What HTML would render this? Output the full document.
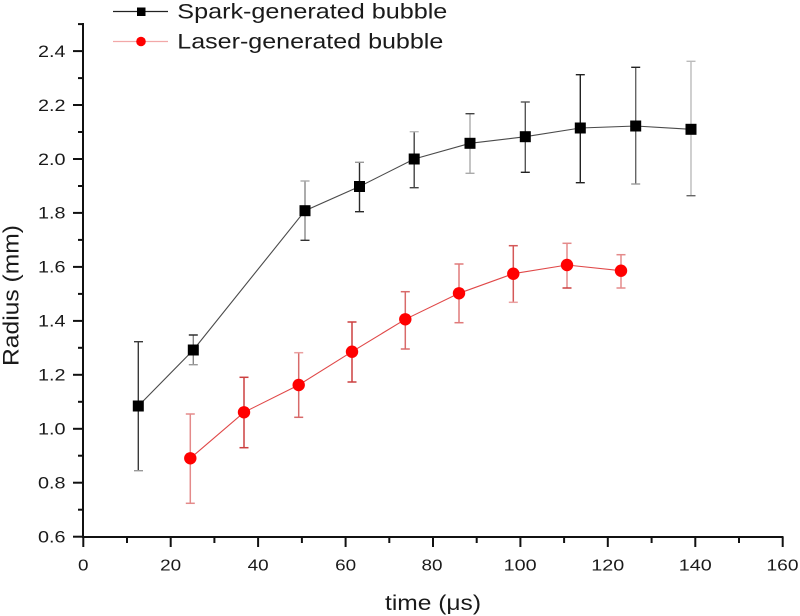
<!DOCTYPE html>
<html>
<head>
<meta charset="utf-8">
<style>
  html,body{margin:0;padding:0;background:#fff;}
  svg{display:block;}
  text{font-family:"Liberation Sans", Arial, sans-serif;fill:#1a1a1a;}
</style>
</head>
<body>
<svg width="800" height="616" viewBox="0 0 800 616" xmlns="http://www.w3.org/2000/svg">
  <rect width="800" height="616" fill="#fff"/>

  <!-- Axes -->
  <g stroke="#111" stroke-width="2" fill="none">
    <line x1="83" y1="23" x2="83" y2="537"/>
    <line x1="82" y1="537" x2="783.5" y2="537"/>
  </g>

  <!-- Y ticks: major (0.2) -->
  <g stroke="#111" stroke-width="2">
    <line x1="73" y1="536.7" x2="83" y2="536.7"/>
    <line x1="73" y1="482.7" x2="83" y2="482.7"/>
    <line x1="73" y1="428.8" x2="83" y2="428.8"/>
    <line x1="73" y1="374.8" x2="83" y2="374.8"/>
    <line x1="73" y1="320.9" x2="83" y2="320.9"/>
    <line x1="73" y1="266.9" x2="83" y2="266.9"/>
    <line x1="73" y1="212.9" x2="83" y2="212.9"/>
    <line x1="73" y1="159.0" x2="83" y2="159.0"/>
    <line x1="73" y1="105.0" x2="83" y2="105.0"/>
    <line x1="73" y1="51.1" x2="83" y2="51.1"/>
  </g>
  <!-- Y minor -->
  <g stroke="#111" stroke-width="2">
    <line x1="78" y1="509.7" x2="83" y2="509.7"/>
    <line x1="78" y1="455.7" x2="83" y2="455.7"/>
    <line x1="78" y1="401.8" x2="83" y2="401.8"/>
    <line x1="78" y1="347.8" x2="83" y2="347.8"/>
    <line x1="78" y1="293.9" x2="83" y2="293.9"/>
    <line x1="78" y1="239.9" x2="83" y2="239.9"/>
    <line x1="78" y1="186.0" x2="83" y2="186.0"/>
    <line x1="78" y1="132.0" x2="83" y2="132.0"/>
    <line x1="78" y1="78.1" x2="83" y2="78.1"/>
    <line x1="78" y1="24.1" x2="83" y2="24.1"/>
  </g>

  <!-- X ticks major (20) -->
  <g stroke="#111" stroke-width="2">
    <line x1="83.3" y1="537" x2="83.3" y2="547"/>
    <line x1="170.7" y1="537" x2="170.7" y2="547"/>
    <line x1="258.1" y1="537" x2="258.1" y2="547"/>
    <line x1="345.6" y1="537" x2="345.6" y2="547"/>
    <line x1="433.0" y1="537" x2="433.0" y2="547"/>
    <line x1="520.4" y1="537" x2="520.4" y2="547"/>
    <line x1="607.8" y1="537" x2="607.8" y2="547"/>
    <line x1="695.3" y1="537" x2="695.3" y2="547"/>
    <line x1="782.7" y1="537" x2="782.7" y2="547"/>
  </g>
  <g stroke="#111" stroke-width="2">
    <line x1="127.0" y1="537" x2="127.0" y2="543"/>
    <line x1="214.4" y1="537" x2="214.4" y2="543"/>
    <line x1="301.9" y1="537" x2="301.9" y2="543"/>
    <line x1="389.3" y1="537" x2="389.3" y2="543"/>
    <line x1="476.7" y1="537" x2="476.7" y2="543"/>
    <line x1="564.1" y1="537" x2="564.1" y2="543"/>
    <line x1="651.6" y1="537" x2="651.6" y2="543"/>
    <line x1="739.0" y1="537" x2="739.0" y2="543"/>
  </g>

  <!-- Y tick labels -->
  <g font-size="16.3" text-anchor="end">
    <text x="65.5" y="542.5" textLength="27.5" lengthAdjust="spacingAndGlyphs">0.6</text>
    <text x="65.5" y="488.5" textLength="27.5" lengthAdjust="spacingAndGlyphs">0.8</text>
    <text x="65.5" y="434.6" textLength="27.5" lengthAdjust="spacingAndGlyphs">1.0</text>
    <text x="65.5" y="380.6" textLength="27.5" lengthAdjust="spacingAndGlyphs">1.2</text>
    <text x="65.5" y="326.7" textLength="27.5" lengthAdjust="spacingAndGlyphs">1.4</text>
    <text x="65.5" y="272.7" textLength="27.5" lengthAdjust="spacingAndGlyphs">1.6</text>
    <text x="65.5" y="218.7" textLength="27.5" lengthAdjust="spacingAndGlyphs">1.8</text>
    <text x="65.5" y="164.8" textLength="27.5" lengthAdjust="spacingAndGlyphs">2.0</text>
    <text x="65.5" y="110.8" textLength="27.5" lengthAdjust="spacingAndGlyphs">2.2</text>
    <text x="65.5" y="56.9" textLength="27.5" lengthAdjust="spacingAndGlyphs">2.4</text>
  </g>

  <!-- X tick labels -->
  <g font-size="16" text-anchor="middle">
    <text x="83.3" y="570.7" textLength="10.5" lengthAdjust="spacingAndGlyphs">0</text>
    <text x="170.7" y="570.7" textLength="21" lengthAdjust="spacingAndGlyphs">20</text>
    <text x="258.1" y="570.7" textLength="21" lengthAdjust="spacingAndGlyphs">40</text>
    <text x="345.6" y="570.7" textLength="21" lengthAdjust="spacingAndGlyphs">60</text>
    <text x="432.0" y="570.7" textLength="21" lengthAdjust="spacingAndGlyphs">80</text>
    <text x="520.2" y="570.7" textLength="33" lengthAdjust="spacingAndGlyphs">100</text>
    <text x="607.8" y="570.7" textLength="33" lengthAdjust="spacingAndGlyphs">120</text>
    <text x="695.3" y="570.7" textLength="33" lengthAdjust="spacingAndGlyphs">140</text>
    <text x="782.5" y="570.7" textLength="32" lengthAdjust="spacingAndGlyphs">160</text>
  </g>

  <!-- Axis titles -->
  <text x="385" y="610" font-size="21" textLength="96" lengthAdjust="spacingAndGlyphs">time (μs)</text>
  <text transform="translate(18.5,366) rotate(-90)" font-size="22.5" textLength="141" lengthAdjust="spacingAndGlyphs">Radius (mm)</text>

  <!-- Spark series connecting line -->
  <polyline fill="none" stroke="#4a4a4a" stroke-width="1.1"
    points="138.3,406 193.3,350 305,210.7 359.5,186.5 414.2,159 470,143.3 525.3,136.7 580.3,128 635.7,126 691,129.3"/>

  <!-- Spark error bars -->
  <g fill="none" stroke-width="1.4">
    <g stroke="#3a3a3a"><line x1="138.3" y1="341.7" x2="138.3" y2="470.7"/><line x1="134" y1="341.7" x2="143" y2="341.7"/><line x1="134" y1="470.7" x2="143" y2="470.7" stroke="#999"/></g>
    <g stroke="#555"><line x1="193.3" y1="335" x2="193.3" y2="364.7" stroke="#888"/><line x1="188.8" y1="335" x2="197.8" y2="335" stroke="#222"/><line x1="188.8" y1="364.7" x2="197.8" y2="364.7" stroke="#999"/></g>
    <g stroke="#888"><line x1="305" y1="181" x2="305" y2="240.3"/><line x1="300.5" y1="181" x2="309.5" y2="181" stroke="#aaa"/><line x1="300.5" y1="240.3" x2="309.5" y2="240.3" stroke="#333"/></g>
    <g stroke="#2a2a2a"><line x1="359.5" y1="162.3" x2="359.5" y2="211.7"/><line x1="355" y1="162.3" x2="364" y2="162.3" stroke="#999"/><line x1="355" y1="211.7" x2="364" y2="211.7"/></g>
    <g stroke="#444"><line x1="414.2" y1="131.7" x2="414.2" y2="187.7"/><line x1="409.7" y1="131.7" x2="418.7" y2="131.7" stroke="#bbb"/><line x1="409.7" y1="187.7" x2="418.7" y2="187.7"/></g>
    <g stroke="#aaa"><line x1="470" y1="113.7" x2="470" y2="173.3"/><line x1="465.5" y1="113.7" x2="474.5" y2="113.7" stroke="#444"/><line x1="465.5" y1="173.3" x2="474.5" y2="173.3"/></g>
    <g stroke="#555"><line x1="525.3" y1="102" x2="525.3" y2="172.3"/><line x1="520.8" y1="102" x2="529.8" y2="102"/><line x1="520.8" y1="172.3" x2="529.8" y2="172.3" stroke="#222"/></g>
    <g stroke="#222"><line x1="580.3" y1="74.7" x2="580.3" y2="182.7"/><line x1="575.8" y1="74.7" x2="584.8" y2="74.7"/><line x1="575.8" y1="182.7" x2="584.8" y2="182.7"/></g>
    <g stroke="#666"><line x1="635.7" y1="67.3" x2="635.7" y2="184"/><line x1="631.2" y1="67.3" x2="640.2" y2="67.3" stroke="#222"/><line x1="631.2" y1="184" x2="640.2" y2="184" stroke="#999"/></g>
    <g stroke="#bbb"><line x1="691" y1="61.3" x2="691" y2="195.7"/><line x1="686.5" y1="61.3" x2="695.5" y2="61.3"/><line x1="686.5" y1="195.7" x2="695.5" y2="195.7" stroke="#666"/></g>
  </g>

  <!-- Spark markers -->
  <g fill="#000">
    <rect x="132.8" y="400.5" width="11" height="11"/>
    <rect x="187.8" y="344.5" width="11" height="11"/>
    <rect x="299.5" y="205.2" width="11" height="11"/>
    <rect x="354" y="181" width="11" height="11"/>
    <rect x="408.7" y="153.5" width="11" height="11"/>
    <rect x="464.5" y="137.8" width="11" height="11"/>
    <rect x="519.8" y="131.2" width="11" height="11"/>
    <rect x="574.8" y="122.5" width="11" height="11"/>
    <rect x="630.2" y="120.5" width="11" height="11"/>
    <rect x="685.5" y="123.8" width="11" height="11"/>
  </g>

  <!-- Laser series line -->
  <polyline fill="none" stroke="#e04848" stroke-width="1.1"
    points="190.3,458.3 244,412.3 298.7,385 352,351.7 405.3,319.3 459,293.3 513.3,273.7 567,265 621,270.7"/>

  <!-- Laser error bars -->
  <g fill="none" stroke-width="1.5" stroke="#d84c4c">
    <g stroke="#e48a8a"><line x1="190.3" y1="414" x2="190.3" y2="503.3"/><line x1="185.8" y1="414" x2="194.8" y2="414"/><line x1="185.8" y1="503.3" x2="194.8" y2="503.3"/></g>
    <g stroke="#cc4040"><line x1="244" y1="377.3" x2="244" y2="447.7"/><line x1="239.5" y1="377.3" x2="248.5" y2="377.3"/><line x1="239.5" y1="447.7" x2="248.5" y2="447.7"/></g>
    <g stroke="#d86a6a"><line x1="298.7" y1="352.7" x2="298.7" y2="417.3"/><line x1="294.2" y1="352.7" x2="303.2" y2="352.7" stroke="#eaa0a0"/><line x1="294.2" y1="417.3" x2="303.2" y2="417.3"/></g>
    <g stroke="#cc4040"><line x1="352" y1="322" x2="352" y2="382"/><line x1="347.5" y1="322" x2="356.5" y2="322"/><line x1="347.5" y1="382" x2="356.5" y2="382"/></g>
    <g stroke="#d86a6a"><line x1="405.3" y1="291.7" x2="405.3" y2="349"/><line x1="400.8" y1="291.7" x2="409.8" y2="291.7"/><line x1="400.8" y1="349" x2="409.8" y2="349"/></g>
    <g stroke="#e07a7a"><line x1="459" y1="264" x2="459" y2="322.7"/><line x1="454.5" y1="264" x2="463.5" y2="264"/><line x1="454.5" y1="322.7" x2="463.5" y2="322.7"/></g>
    <g stroke="#d45858"><line x1="513.3" y1="245.7" x2="513.3" y2="302.3"/><line x1="508.8" y1="245.7" x2="517.8" y2="245.7"/><line x1="508.8" y1="302.3" x2="517.8" y2="302.3" stroke="#eaa0a0"/></g>
    <g stroke="#e48a8a"><line x1="567" y1="243.3" x2="567" y2="288"/><line x1="562.5" y1="243.3" x2="571.5" y2="243.3"/><line x1="562.5" y1="288" x2="571.5" y2="288" stroke="#cc4040"/></g>
    <g stroke="#e48a8a"><line x1="621" y1="254.7" x2="621" y2="288"/><line x1="616.5" y1="254.7" x2="625.5" y2="254.7"/><line x1="616.5" y1="288" x2="625.5" y2="288"/></g>
  </g>

  <!-- Laser markers -->
  <g fill="#ff0000">
    <circle cx="190.3" cy="458.3" r="6.2"/>
    <circle cx="244" cy="412.3" r="6.2"/>
    <circle cx="298.7" cy="385" r="6.2"/>
    <circle cx="352" cy="351.7" r="6.2"/>
    <circle cx="405.3" cy="319.3" r="6.2"/>
    <circle cx="459" cy="293.3" r="6.2"/>
    <circle cx="513.3" cy="273.7" r="6.2"/>
    <circle cx="567" cy="265" r="6.2"/>
    <circle cx="621" cy="270.7" r="6.2"/>
  </g>

  <!-- Legend -->
  <line x1="113" y1="11.5" x2="168" y2="11.5" stroke="#222" stroke-width="1.3"/>
  <rect x="137" y="7.5" width="8.5" height="8.5" fill="#000"/>
  <text x="177.3" y="18.5" font-size="21.5" textLength="270" lengthAdjust="spacingAndGlyphs">Spark-generated bubble</text>

  <line x1="113" y1="41.5" x2="168" y2="41.5" stroke="#f2a8a8" stroke-width="1.3"/>
  <circle cx="141" cy="41.5" r="4.8" fill="#ff0000"/>
  <text x="177.3" y="48.5" font-size="21.5" textLength="266" lengthAdjust="spacingAndGlyphs">Laser-generated bubble</text>
</svg>
</body>
</html>
